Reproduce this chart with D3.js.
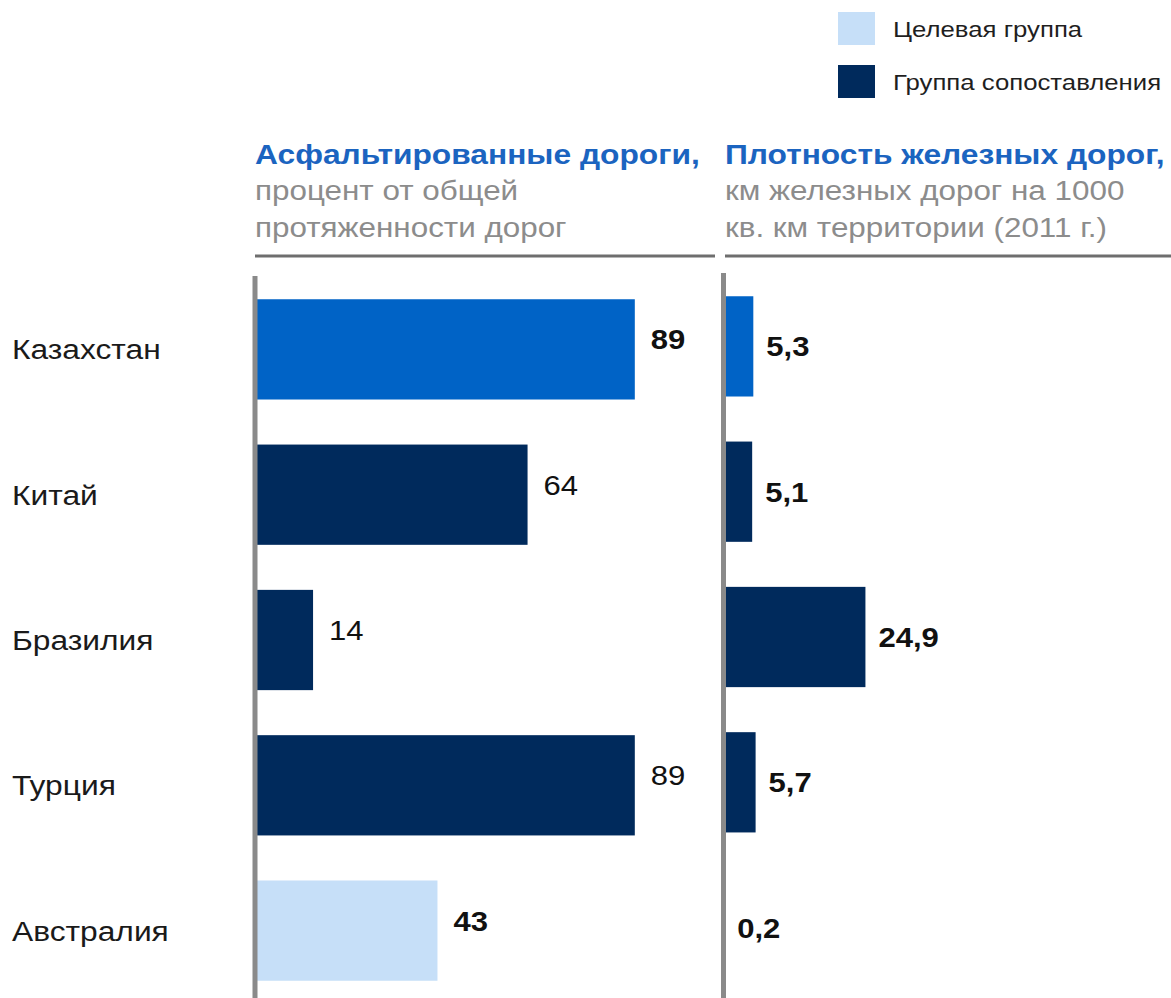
<!DOCTYPE html>
<html>
<head>
<meta charset="utf-8">
<script src="https://cdn.jsdelivr.net/npm/d3@7"></script>
<style>
  body { margin: 0; background: #fff; }
  svg text { font-family: "Liberation Sans", Arial, sans-serif; }
</style>
</head>
<body>
<svg id="chart" width="1171" height="998"></svg>
<script>
// data
var countries = ["Казахстан", "Китай", "Бразилия", "Турция", "Австралия"];
var pavedRoads = [89, 64, 14, 89, 43];
var railDensity = [5.3, 5.1, 24.9, 5.7, 0.2];
var groups = ["focus", "compare", "compare", "compare", "target"];
var boldPaved = [true, false, false, false, true];

var legendLabels = ["Целевая группа", "Группа сопоставления"];
var legendGroups = ["target", "compare"];

var headers = [
    { title: "Асфальтированные дороги,", lines: ["процент от общей", "протяженности дорог"] },
    { title: "Плотность железных дорог,", lines: ["км железных дорог на 1000", "кв. км территории (2011 г.)"] }
];

var colorScale = d3.scaleOrdinal()
    .domain(["focus", "compare", "target"])
    .range(["#0063c6", "#002a5c", "#c6dff8"]);

var sx = 1.15; // text in the original is a bit wide
var svg = d3.select("#chart");

function addText(x, y, txt, size, color, weight, stretch) {
    return svg.append("text")
        .attr("transform", "translate(" + x + "," + y + ") scale(" + (stretch || sx) + ",1)")
        .style("font-size", size + "px")
        .style("font-weight", weight || "normal")
        .attr("fill", color)
        .text(txt);
}

var commaFmt = d => d3.format(".1f")(d).replace(".", ",");

// scales
var yLeft = d3.scaleBand().domain(countries).range([276, 1004]).paddingInner(0.31).paddingOuter(0.16);
var yRight = d3.scaleBand().domain(countries).range([273, 1001]).paddingInner(0.31).paddingOuter(0.16);
var xLeft = d3.scaleLinear().domain([0, 100]).range([253, 682]);
var xRight = d3.scaleLinear().domain([0, 25]).range([723, 866]);

// legend
legendLabels.forEach(function(l, i) {
    svg.append("rect")
        .attr("x", 838).attr("y", 12 + i * 53)
        .attr("width", 37).attr("height", 33)
        .attr("fill", colorScale(legendGroups[i]));
    addText(893, 37 + i * 53, l, 23, "#1f1f1f", "normal", 1.12);
});

// column headers
var headerX = [255, 725];
headers.forEach(function(h, i) {
    addText(headerX[i], 164, h.title, 27.6, "#1b64c0", "bold");
    h.lines.forEach(function(t, j) {
        addText(headerX[i], 200 + j * 37, t, 27.3, "#8c8c8c");
    });
});
svg.append("line").attr("x1", 255).attr("x2", 715).attr("y1", 256).attr("y2", 256)
    .attr("stroke", "#6e6e6e").attr("stroke-width", 3);
svg.append("line").attr("x1", 725).attr("x2", 1171).attr("y1", 256).attr("y2", 256)
    .attr("stroke", "#6e6e6e").attr("stroke-width", 3);

// country labels
countries.forEach(function(c) {
    addText(12, yLeft(c) + yLeft.bandwidth() / 2 + 10, c, 27.6, "#1a1a1a");
});

// left panel bars
svg.selectAll("rect.paved")
    .data(countries)
    .enter()
    .append("rect")
    .attr("class", "paved")
    .attr("x", xLeft(0))
    .attr("y", d => yLeft(d))
    .attr("width", (d, i) => xLeft(pavedRoads[i]) - xLeft(0))
    .attr("height", yLeft.bandwidth())
    .attr("fill", (d, i) => colorScale(groups[i]));

countries.forEach(function(c, i) {
    addText(xLeft(pavedRoads[i]) + 16, yLeft(c) + yLeft.bandwidth() / 2, pavedRoads[i], 27, "#111",
        boldPaved[i] ? "bold" : "normal");
});

// right panel bars
svg.selectAll("rect.rail")
    .data(countries)
    .enter()
    .append("rect")
    .attr("class", "rail")
    .attr("x", xRight(0))
    .attr("y", d => yRight(d))
    .attr("width", (d, i) => xRight(railDensity[i]) - xRight(0))
    .attr("height", yRight.bandwidth())
    .attr("fill", (d, i) => colorScale(groups[i]));

countries.forEach(function(c, i) {
    addText(xRight(railDensity[i]) + 13, yRight(c) + yRight.bandwidth() / 2 + 10, commaFmt(railDensity[i]), 27, "#111", "bold");
});

// axis lines on top
svg.append("line").attr("x1", 255).attr("x2", 255).attr("y1", 276).attr("y2", 998)
    .attr("stroke", "#8a8a8a").attr("stroke-width", 5);
svg.append("line").attr("x1", 723.5).attr("x2", 723.5).attr("y1", 273).attr("y2", 998)
    .attr("stroke", "#8a8a8a").attr("stroke-width", 5);
</script>
</body>
</html>
